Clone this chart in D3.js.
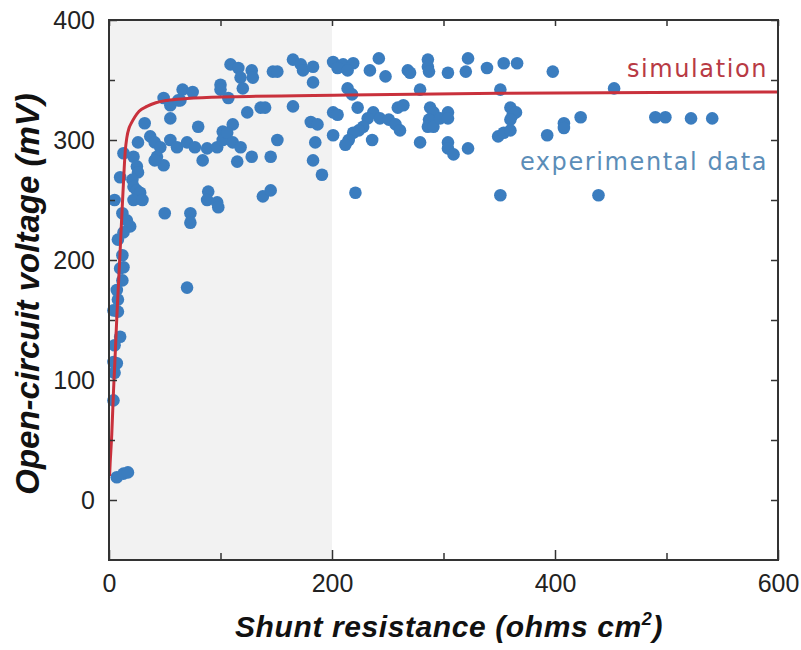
<!DOCTYPE html>
<html>
<head>
<meta charset="utf-8">
<script src="https://cdn.jsdelivr.net/npm/d3@7"></script>
<style>
  html, body { margin: 0; padding: 0; background: #fff; }
  svg { display: block; }
</style>
</head>
<body>
<svg id="chart" width="801" height="650"></svg>
<script>
// ---------- data ----------
const xMajorTicks = [0, 200, 400, 600];
const xMinorTicks = [100, 300, 500];
const yMajorTicks = [0, 100, 200, 300, 400];
const yMinorTicks = [50, 150, 250, 350];
const shadedRange = [0, 200];

// simulation curve
const simX = [0.5, 1, 2.5, 4, 5.5, 7, 8.5, 10, 11.5, 13, 14.5, 16, 18, 20, 23, 27, 34, 42, 52, 70, 110, 215, 350, 600];
const simY = [20, 30, 55, 90, 120, 152, 180, 208, 237, 265, 290, 302, 310, 314, 319, 324, 328, 331, 333, 334.5, 336, 337.5, 339, 340];

// experimental data (shunt resistance, Voc)
const expX = [109,116,128,118,129,120,147,151,165,172,174,183,183,66,75,64,49,55,62,100,100,107,124,136,140,165,32,55,80,111,102,181,187,185,183,191,151,145,128,115,84,37,41,46,55,61,70,77,88,97,102,106,111,118,43,49,41,26,13,22,25,26,21,22,25,28,22,30,10,5,12,16,19,13,8,50,73,73,89,88,97,98,138,145,12,13,10,12,7,70,
  8,4,8,10,5,4,7,5,4,7,13,17,
  201,210,219,205,214,242,234,248,268,270,286,286,287,304,322,320,339,354,366,398,214,218,279,351,201,205,223,237,243,251,257,261,232,228,224,219,215,212,201,236,259,264,288,291,287,286,291,297,304,304,279,304,304,309,322,360,362,365,360,349,354,360,393,408,408,423,221,351,
  453,490,499,522,541,439];
const expY = [363,360,358,352,352,343,357,357,367,363,358,361,348,342,340,333,335,329,333,346,342,335,323,327,327,328,314,318,311,313,307,315,313,298,283,271,300,286,286,282,283,303,298,294,300,294,298,294,293,294,300,306,298,294,286,279,283,298,289,286,278,273,267,261,258,256,250,250,269,250,239,233,228,223,217,239,239,231,257,250,248,244,253,258,204,194,193,183,175,177,
  167,158,157,136,129,115,114,106,83,19,22,23,
  365,363,364,360,358,368,358,353,358,356,367,361,357,356,368,357,360,364,364,357,343,338,342,342,323,321,327,323,318,317,313,308,318,311,308,306,300,296,304,300,327,329,327,323,317,311,311,318,323,318,298,298,293,288,293,327,321,323,317,303,306,308,304,314,310,319,256,254,
  343,319,319,318,318,254];

const simLabel = "simulation";
const expLabel = "experimental data";
const xTitle = "Shunt resistance (ohms cm";
const yTitle = "Open-circuit voltage (mV)";

// ---------- layout ----------
const L = 109, R = 778, T = 20, B = 560;
const svg = d3.select("#chart");

const x = d3.scaleLinear().domain([0, 600]).range([L, R]);
const y = d3.scaleLinear().domain([-50, 400]).range([B, T]);

// shaded region
svg.append("rect")
  .attr("x", x(shadedRange[0])).attr("y", T)
  .attr("width", x(shadedRange[1]) - x(shadedRange[0]))
  .attr("height", B - T)
  .attr("fill", "#f2f2f2");

// experimental dots
const pts = expX.map((v, i) => [v, expY[i]]);
svg.append("g").selectAll("circle").data(pts).join("circle")
  .attr("cx", d => x(d[0])).attr("cy", d => y(d[1]))
  .attr("r", 6.3)
  .attr("fill", "#3b7dbf");

// simulation curve
const simPts = simX.map((v, i) => [v, simY[i]]);
svg.append("path")
  .datum(simPts)
  .attr("fill", "none")
  .attr("stroke", "#c9313c")
  .attr("stroke-width", 3)
  .attr("d", d3.line().x(d => x(d[0])).y(d => y(d[1])).curve(d3.curveMonotoneX));

// axes
const tickFont = "'Liberation Sans', Arial, sans-serif";
function styleAxis(g) {
  g.select(".domain").remove();
  g.selectAll(".tick line").attr("stroke", "#333").attr("stroke-width", 1.5);
  g.selectAll(".tick text").attr("fill", "#222").style("font-family", tickFont).style("font-size", "25px");
}
svg.append("g").attr("transform", `translate(0,${B})`)
  .call(d3.axisBottom(x).tickValues(xMajorTicks).tickSize(-10).tickPadding(14).tickFormat(d3.format("d")))
  .call(styleAxis);
svg.append("g").attr("transform", `translate(0,${B})`)
  .call(d3.axisBottom(x).tickValues(xMinorTicks).tickSize(-7).tickFormat(""))
  .call(styleAxis);
svg.append("g").attr("transform", `translate(0,${T})`)
  .call(d3.axisTop(x).tickValues(xMajorTicks.concat(xMinorTicks)).tickSize(-6).tickFormat(""))
  .call(styleAxis);
svg.append("g").attr("transform", `translate(${L},0)`)
  .call(d3.axisLeft(y).tickValues(yMajorTicks).tickSize(-8).tickPadding(14).tickFormat(d3.format("d")))
  .call(styleAxis);
svg.append("g").attr("transform", `translate(${L},0)`)
  .call(d3.axisLeft(y).tickValues(yMinorTicks).tickSize(-6).tickFormat(""))
  .call(styleAxis);
svg.append("g").attr("transform", `translate(${R},0)`)
  .call(d3.axisRight(y).tickValues(yMajorTicks.concat(yMinorTicks)).tickSize(-7).tickFormat(""))
  .call(styleAxis);

// frame
svg.append("rect")
  .attr("x", L).attr("y", T).attr("width", R - L).attr("height", B - T)
  .attr("fill", "none").attr("stroke", "#333").attr("stroke-width", 2);

// labels
svg.append("text")
  .attr("x", 768).attr("y", 77).attr("text-anchor", "end")
  .style("font-family", "'DejaVu Sans', Verdana, sans-serif").style("font-size", "24px")
  .style("letter-spacing", "1.6px")
  .attr("fill", "#b83a44").text(simLabel);
svg.append("text")
  .attr("x", 768).attr("y", 170).attr("text-anchor", "end")
  .style("font-family", "'DejaVu Sans', Verdana, sans-serif").style("font-size", "24px")
  .style("letter-spacing", "1.6px")
  .attr("fill", "#5b8db8").text(expLabel);

// axis titles
const xt = svg.append("text")
  .attr("x", 449).attr("y", 637).attr("text-anchor", "middle")
  .style("font-family", tickFont).style("font-size", "30px")
  .style("letter-spacing", "0.6px")
  .style("font-weight", "bold").style("font-style", "italic")
  .attr("fill", "#111");
xt.append("tspan").text(xTitle);
xt.append("tspan").attr("dy", -12).style("font-size", "18px").text("2");
xt.append("tspan").attr("dy", 12).text(")");

svg.append("text")
  .attr("transform", "translate(39,294) rotate(-90)")
  .attr("text-anchor", "middle")
  .style("font-family", tickFont).style("font-size", "33px")
  .style("font-weight", "bold").style("font-style", "italic")
  .attr("fill", "#111").text(yTitle);
</script>
</body>
</html>
